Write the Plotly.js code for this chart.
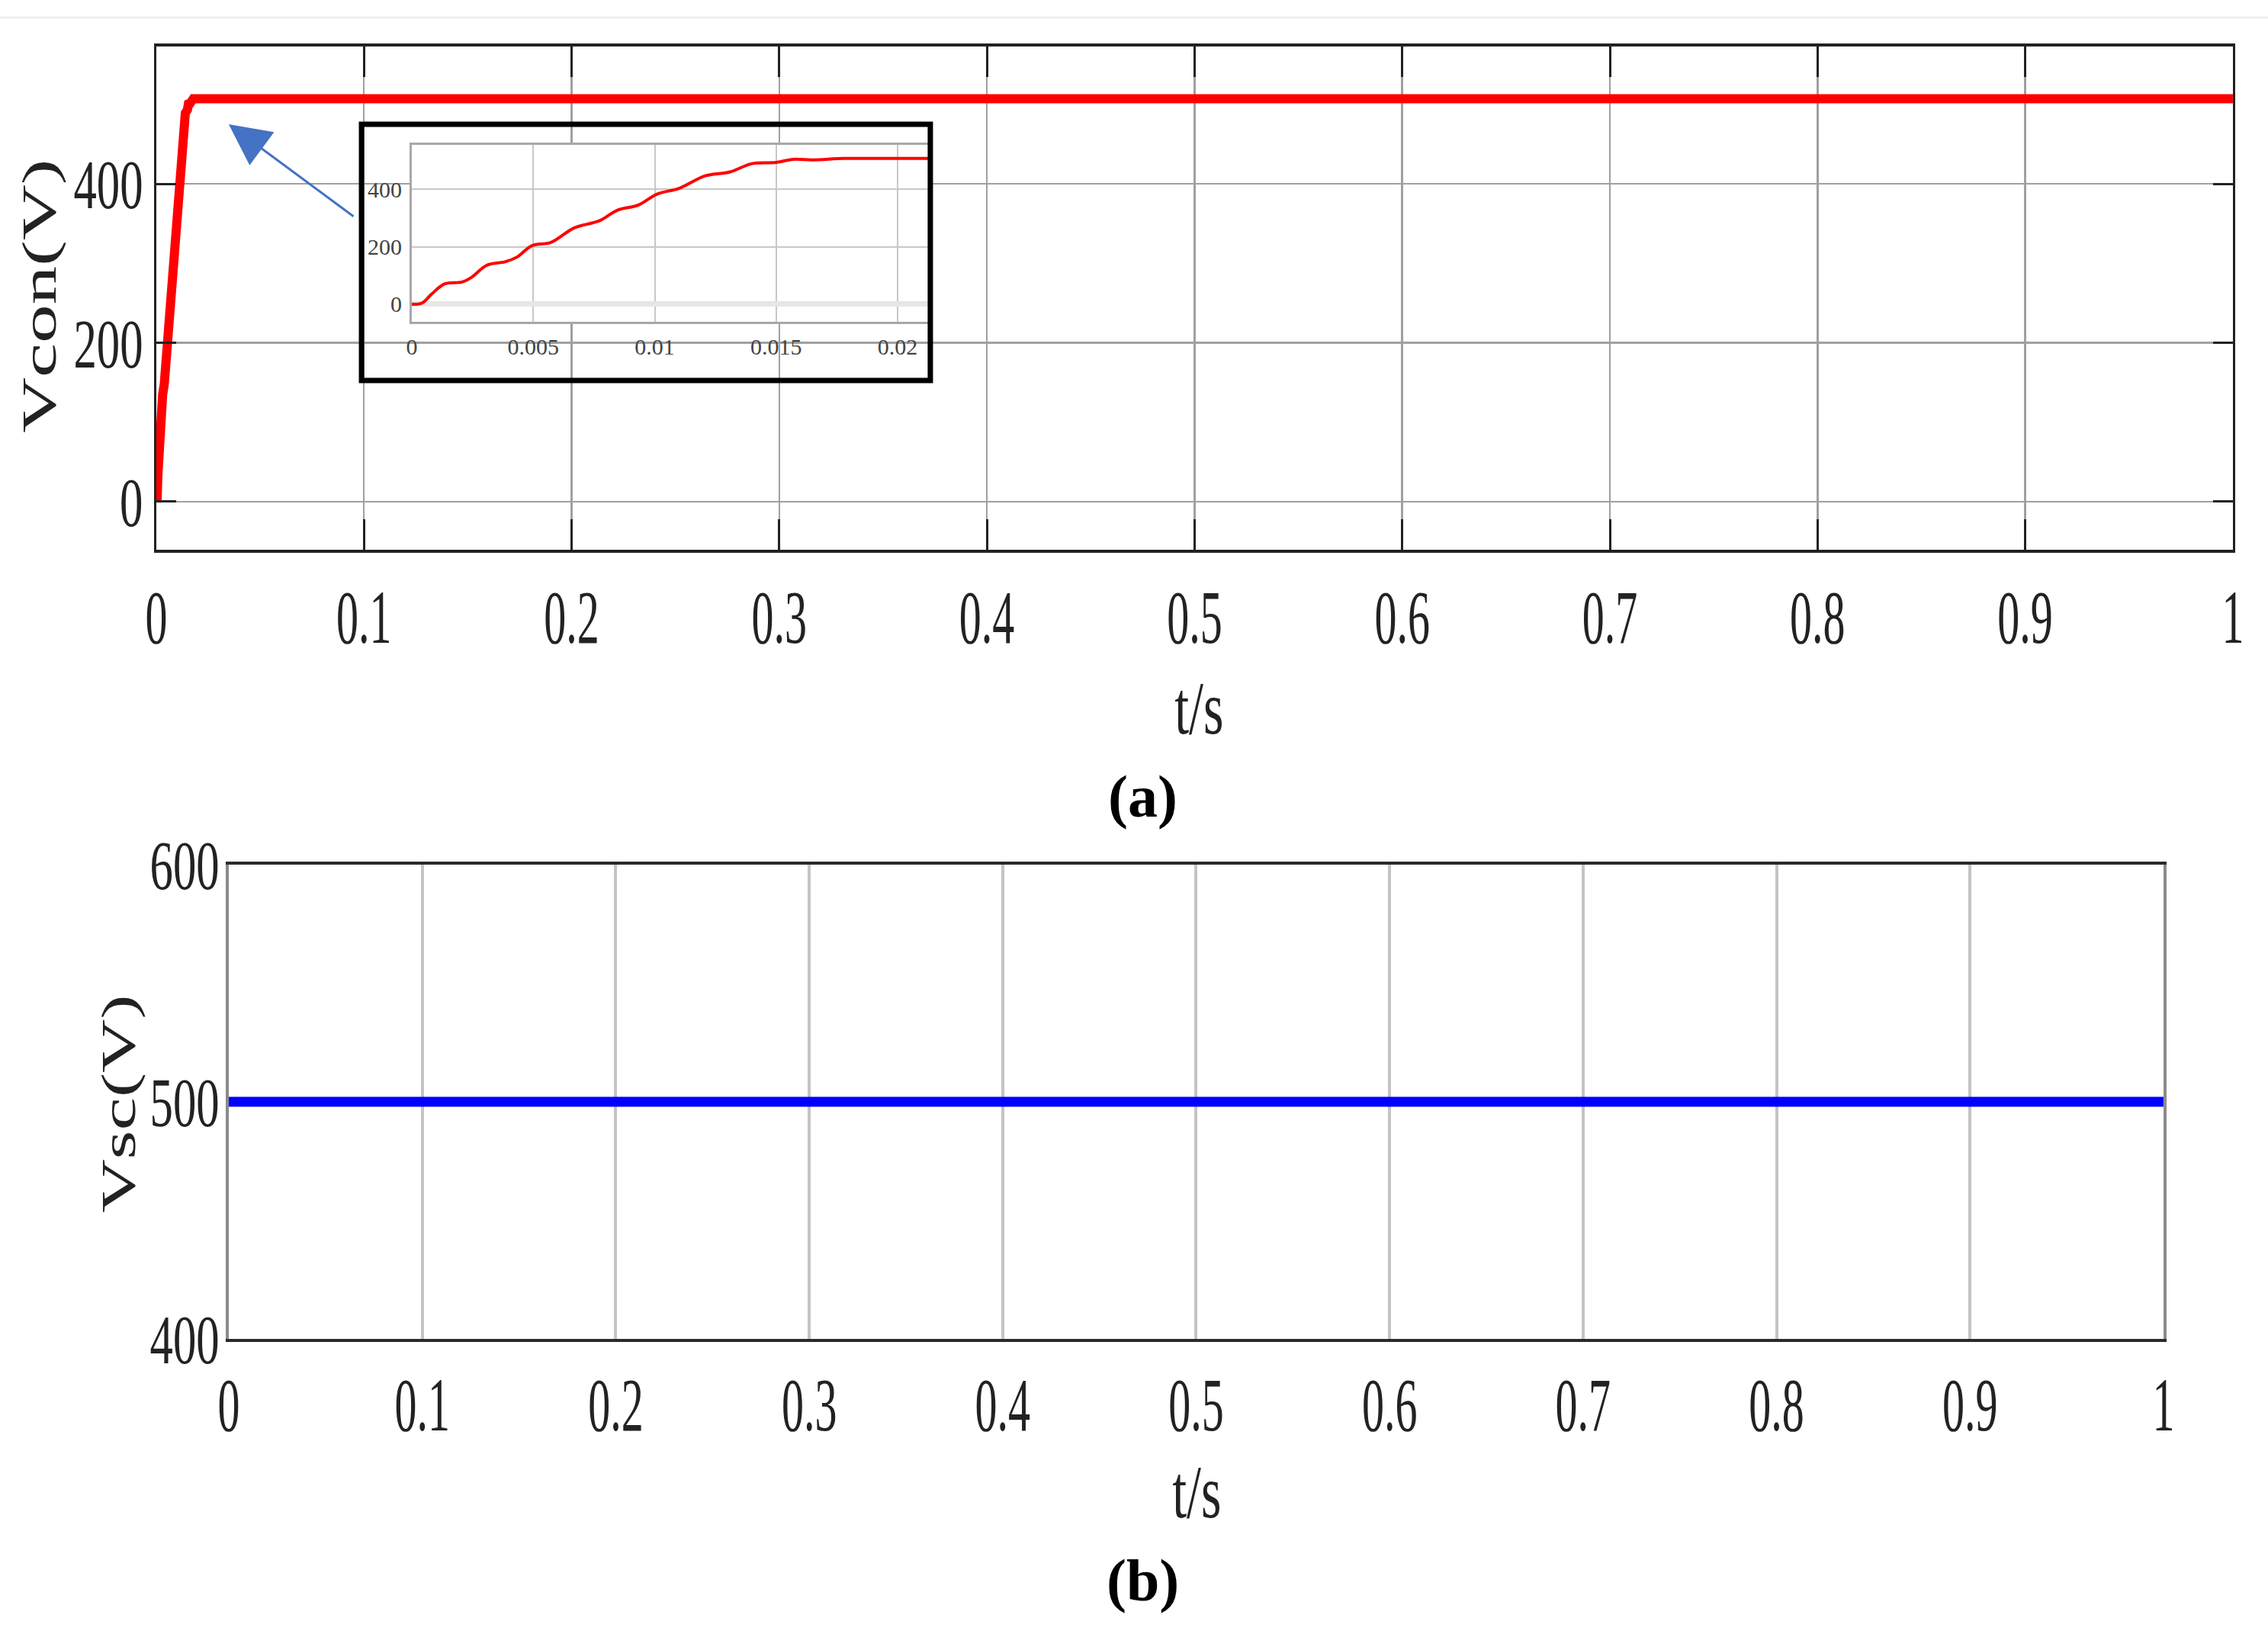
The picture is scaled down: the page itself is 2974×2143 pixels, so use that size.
<!DOCTYPE html>
<html>
<head>
<meta charset="utf-8">
<script src="https://cdn.plot.ly/plotly-3.0.1.min.js"></script>
<style>
  body { margin: 0; background: #fff; }
  #chart { width: 2974px; height: 2143px; }
</style>
</head>
<body>
<div id="chart"></div>
<script>
// start-up of the converter voltage
var t_con = [0, 0.00042, 0.00081, 0.00136, 0.00206, 0.00245, 0.00308, 0.00386, 0.00433,
  0.00495, 0.00573, 0.00667, 0.00745, 0.00777, 0.00847, 0.00933, 0.0101, 0.0110,
  0.0121, 0.0131, 0.0140, 0.0150, 0.0157, 0.0165, 0.0178, 0.0193, 0.0214];
var v_con = [0, 4, 35, 71, 77, 93, 135, 148, 164,
  204, 215, 265, 283, 292, 327, 345, 383, 403,
  447, 460, 489, 493, 504, 502, 507, 507, 507];
// rest of the run, flat
var t_con_end = [1];
var v_con_end = [507];

// supercapacitor voltage
var t_sc = [0, 1];
var v_sc = [500, 500];

var xTicks = [0, 0.1, 0.2, 0.3, 0.4, 0.5, 0.6, 0.7, 0.8, 0.9, 1];
var insetTicks = [0, 0.005, 0.01, 0.015, 0.02];
var insetLabels = ["0", "0.005", "0.01", "0.015", "0.02"];

var serif = "Liberation Serif, Times New Roman, serif";

var traceCon = {
  x: t_con.concat(t_con_end),
  y: v_con.concat(v_con_end),
  type: "scatter",
  mode: "lines",
  line: {color: "#ff0000", width: 12},
  xaxis: "x", yaxis: "y",
  hoverinfo: "skip"
};

var traceSc = {
  x: t_sc,
  y: v_sc,
  type: "scatter",
  mode: "lines",
  line: {color: "#0000ff", width: 13},
  xaxis: "x2", yaxis: "y2",
  hoverinfo: "skip"
};

// zoomed view of the start-up
var traceInset = {
  x: t_con,
  y: v_con,
  type: "scatter",
  mode: "lines",
  line: {color: "#ff0000", width: 4, shape: "spline"},
  xaxis: "x4", yaxis: "y4",
  hoverinfo: "skip"
};

var traceData = [traceCon, traceSc, traceInset];

var blank = {showgrid: false, zeroline: false, showline: false, showticklabels: false, ticks: "", fixedrange: true};

var layout = {
  width: 2974,
  height: 2143,
  margin: {l: 0, r: 0, t: 0, b: 0},
  paper_bgcolor: "#ffffff",
  plot_bgcolor: "#ffffff",
  showlegend: false,
  font: {family: serif, color: "#222"},

  xaxis: {
    domain: [0.0689, 0.9845], anchor: "y",
    range: [0, 1], tickvals: xTicks,
    showgrid: true, gridcolor: "#a0a0a0", gridwidth: 2.5,
    zeroline: false,
    showline: true, linecolor: "#222", linewidth: 4, mirror: "ticks",
    ticks: "inside", ticklen: 40, tickwidth: 3, tickcolor: "#222",
    tickfont: {family: serif, size: 100, color: "#222"},
    ticklabelstandoff: -2
  },
  yaxis: {
    domain: [0.6636, 0.9715], anchor: "x",
    range: [-60.4, 572.7], tickvals: [0, 200, 400],
    showgrid: true, gridcolor: "#a0a0a0", gridwidth: 2.5,
    zeroline: false,
    showline: true, linecolor: "#222", linewidth: 3, mirror: "ticks",
    ticks: "inside", ticklen: 26, tickwidth: 3, tickcolor: "#222",
    tickfont: {family: serif, size: 92, color: "#222"},
    ticklabelstandoff: -4
  },

  xaxis2: {
    domain: [0.1009, 0.9539], anchor: "y2",
    range: [0, 1], tickvals: xTicks,
    showgrid: true, gridcolor: "#c4c4c4", gridwidth: 4,
    zeroline: false,
    showline: true, linecolor: "#2a2a2a", linewidth: 4, mirror: true,
    ticks: "",
    tickfont: {family: serif, size: 100, color: "#222"},
    ticklabelstandoff: -4
  },
  yaxis2: {
    domain: [0.1806, 0.4708], anchor: "x2",
    range: [400, 600], tickvals: [400, 500, 600],
    showgrid: false, zeroline: false,
    showline: true, linecolor: "#8a8a8a", linewidth: 4, mirror: true,
    ticks: "",
    tickfont: {family: serif, size: 92, color: "#222"},
    ticklabelstandoff: -10
  },

  // white card behind the inset
  xaxis3: Object.assign({domain: [0.1594, 0.4102], anchor: "y3", range: [0, 1]}, blank),
  yaxis3: Object.assign({domain: [0.7671, 0.9239], anchor: "x3", range: [0, 1]}, blank),

  xaxis4: {
    domain: [0.1816, 0.4102], anchor: "y4",
    range: [0, 0.02135], tickvals: insetTicks, ticktext: insetLabels,
    showgrid: true, gridcolor: "#c8c8c8", gridwidth: 2,
    zeroline: false,
    showline: true, linecolor: "#a8a8a8", linewidth: 3, mirror: true,
    ticks: "",
    tickfont: {family: serif, size: 30, color: "#444"},
    ticklabelstandoff: 4
  },
  yaxis4: {
    domain: [0.8031, 0.9113], anchor: "x4",
    range: [-61, 554], tickvals: [0, 200, 400],
    showgrid: true, gridcolor: "#c8c8c8", gridwidth: 2,
    zeroline: true, zerolinecolor: "#e6e6e6", zerolinewidth: 7,
    showline: true, linecolor: "#a8a8a8", linewidth: 3, mirror: true,
    ticks: "",
    tickfont: {family: serif, size: 30, color: "#444"},
    ticklabelstandoff: 4
  },

  shapes: [
    // faint rule at the very top of the figure
    {type: "line", xref: "paper", yref: "paper", x0: 0, x1: 1, y0: 0.9893, y1: 0.9893,
     line: {color: "#eeeeee", width: 3}},
    // light band at 400 in the inset
    {type: "line", xref: "x4 domain", yref: "y4", x0: 0, x1: 1, y0: 400, y1: 400,
     line: {color: "#e6e6e6", width: 7}, layer: "below"},
    // inset frame
    {type: "rect", xref: "paper", yref: "paper", x0: 0.1594, x1: 0.4102, y0: 0.7671, y1: 0.9239,
     line: {color: "#000000", width: 7}, fillcolor: "rgba(0,0,0,0)", layer: "above"}
  ],

  annotations: [
    {xref: "paper", yref: "paper", x: 0.0175, y: 0.8185, text: "Vcon(V)", textangle: -90,
     showarrow: false, xanchor: "center", yanchor: "middle",
     font: {family: serif, size: 64, color: "#222"}},
    {xref: "paper", yref: "paper", x: 0.0520, y: 0.3243, text: "Vsc(V)", textangle: -90,
     showarrow: false, xanchor: "center", yanchor: "middle",
     font: {family: serif, size: 64, color: "#222"}},
    {xref: "paper", yref: "paper", x: 0.5286, y: 0.5665, text: "t/s",
     showarrow: false, xanchor: "center", yanchor: "middle",
     font: {family: serif, size: 100, color: "#222"}},
    {xref: "paper", yref: "paper", x: 0.5275, y: 0.0868, text: "t/s",
     showarrow: false, xanchor: "center", yanchor: "middle",
     font: {family: serif, size: 100, color: "#222"}},
    {xref: "paper", yref: "paper", x: 0.5037, y: 0.5124, text: "<b>(a)</b>",
     showarrow: false, xanchor: "center", yanchor: "middle",
     font: {family: serif, size: 78, color: "#000"}},
    {xref: "paper", yref: "paper", x: 0.5037, y: 0.0327, text: "<b>(b)</b>",
     showarrow: false, xanchor: "center", yanchor: "middle",
     font: {family: serif, size: 78, color: "#000"}},
    // arrow pointing from the inset to the start-up
    {xref: "x", yref: "y", x: 0.0349, y: 475, axref: "x", ayref: "y", ax: 0.0955, ay: 358,
     text: "", showarrow: true, arrowhead: 2, arrowsize: 3.6, arrowwidth: 3,
     arrowcolor: "#4472c4", standoff: 0}
  ]
};

// the original figure is stretched vertically: squeeze (or stretch) glyphs
// along the text direction, keeping each label's anchor point where it was
function squeeze(nodes, factor) {
  nodes.forEach(function (el) {
    var w = el.getComputedTextLength();
    if (!(w > 0)) return;
    var b0 = el.getBBox();
    el.setAttribute("textLength", (w * factor).toFixed(1));
    el.setAttribute("lengthAdjust", "spacingAndGlyphs");
    var b1 = el.getBBox();
    var anchor = window.getComputedStyle(el).textAnchor || "start";
    var dx;
    if (anchor === "end") dx = (b0.x + b0.width) - (b1.x + b1.width);
    else if (anchor === "middle") dx = (b0.x + b0.width / 2) - (b1.x + b1.width / 2);
    else dx = b0.x - b1.x;
    if (Math.abs(dx) > 0.5) {
      var x = parseFloat(el.getAttribute("x") || "0");
      el.setAttribute("x", (x + dx).toFixed(1));
    }
  });
}

Plotly.newPlot("chart", traceData, layout, {staticPlot: true}).then(function (gd) {
  var q = function (s) { return Array.prototype.slice.call(gd.querySelectorAll(s)); };
  squeeze(q(".subplot.xy .xaxislayer-above .xtick text"), 0.58);
  squeeze(q(".subplot.x2y2 .xaxislayer-above .x2tick text"), 0.58);
  squeeze(q(".subplot.xy .yaxislayer-above .ytick text"), 0.66);
  squeeze(q(".subplot.x2y2 .yaxislayer-above .y2tick text"), 0.66);
  q(".annotation-text").forEach(function (el) {
    var txt = el.textContent;
    if (txt === "t/s") squeeze([el], 0.68);
    if (txt === "Vcon(V)") squeeze([el], 1.58);
    if (txt === "Vsc(V)") squeeze([el], 1.52);
  });
});
</script>
</body>
</html>
